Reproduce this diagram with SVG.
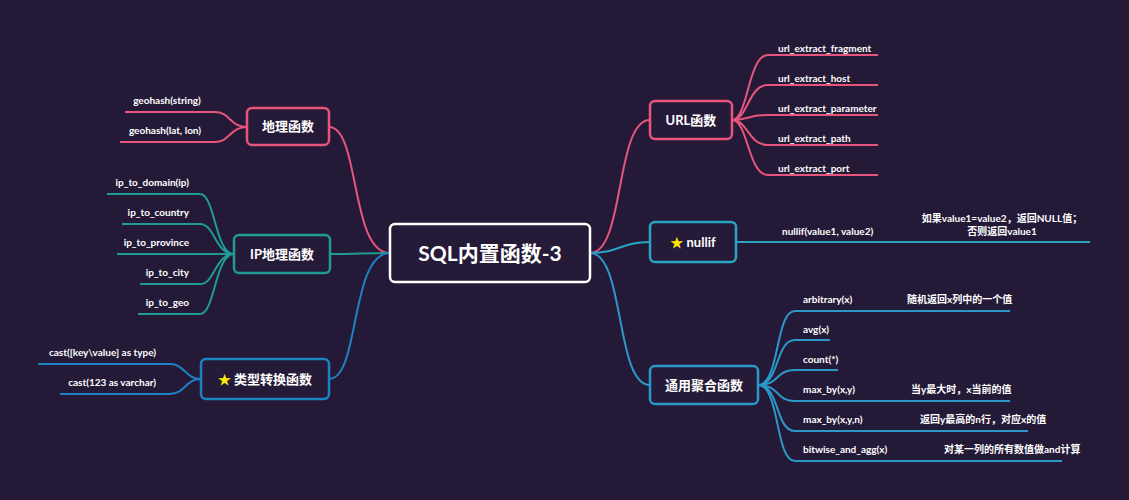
<svg xmlns="http://www.w3.org/2000/svg" width="1129" height="500" viewBox="0 0 1129 500">
<style>
text{font-family:"Lato","Noto Sans CJK SC",sans-serif;fill:#fff;font-weight:bold}
.l{font-size:10px}
.n{font-size:13px;text-anchor:middle}
.c{fill:none;stroke-width:2}
.pk{stroke:#e8557c}.tl{stroke:#1f9a94}.bl{stroke:#1d82c4}.cy{stroke:#27a5c2}.lb{stroke:#2a98c9}
.box{fill:#251b38;stroke-width:2.5}
</style>
<rect width="1129" height="500" fill="#241a37"/>
<g id="connectors">
<path class="c pk" d="M390 253 C350 253 360 127 329 127"/>
<path class="c tl" d="M390 253 C360 253 360 254 330 254"/>
<path class="c bl" d="M390 253 C350 253 360 379 329 379"/>
<path class="c pk" d="M590 253 C625 253 615 120 650 120"/>
<path class="c cy" d="M590 253 C620 253 620 242 650 242"/>
<path class="c lb" d="M590 253 C625 253 615 385 650 385"/>
<path class="c pk" d="M125 112 H215 C230 112 230 127 247 127 M120 142 H215 C230 142 230 127 247 127"/>
<path class="c tl" d="M107 194 H200 C215 194 215 254 234 254 M122 224 H200 C215 224 215 254 234 254 M117 254 H234 M140 284 H200 C215 284 215 254 234 254 M138 314 H200 C215 314 215 254 234 254"/>
<path class="c bl" d="M38 364 H170 C185 364 185 379 201 379 M60 394 H170 C185 394 185 379 201 379"/>
<path class="c pk" d="M732 120 C748 120 748 55 768 55 H878 M732 120 C748 120 748 85 768 85 H878 M732 120 C748 120 748 115 768 115 H878 M732 120 C748 120 748 145 768 145 H878 M732 120 C748 120 748 175 768 175 H878"/>
<path class="c cy" d="M736 242 H1090"/>
<path class="c lb" d="M758 385 C780 385 775 311 795 311 H1010 M758 385 C780 385 775 340 795 340 H830 M758 385 C780 385 775 370 795 370 H838 M758 385 C780 385 775 401 795 401 H1010 M758 385 C780 385 775 431 795 431 H1028 M758 385 C780 385 775 461 795 461 H1062"/>
</g>
<g id="center"><rect class="box" x="390" y="224" width="200" height="58" rx="5" stroke="#fff"/><text x="490" y="261" font-size="21" text-anchor="middle">SQL内置函数-3</text></g>
<g id="dili"><rect class="box" x="247" y="108" width="82" height="37" rx="5" stroke="#e8557c"/><text class="n" x="288" y="131">地理函数</text></g>
<g id="ipdili"><rect class="box" x="234" y="235" width="96" height="38" rx="5" stroke="#1f9a94"/><text class="n" x="282" y="259">IP地理函数</text></g>
<g id="leixing"><rect class="box" x="201" y="359" width="128" height="40" rx="5" stroke="#1d82c4"/><text class="n" x="265" y="384"><tspan fill="#ffe600">★</tspan> 类型转换函数</text></g>
<g id="url"><rect class="box" x="650" y="101" width="82" height="38" rx="5" stroke="#e8557c"/><text class="n" x="691" y="125">URL函数</text></g>
<g id="nullif"><rect class="box" x="650" y="222" width="86" height="40" rx="5" stroke="#27a5c2"/><text class="n" x="693" y="247"><tspan fill="#ffe600">★</tspan> nullif</text></g>
<g id="tongyong"><rect class="box" x="650" y="366" width="108" height="38" rx="5" stroke="#2a98c9"/><text class="n" x="704" y="390">通用聚合函数</text></g>
<g id="leaves">
<text class="l" x="167" y="104" text-anchor="middle">geohash(string)</text>
<text class="l" x="165" y="134" text-anchor="middle">geohash(lat, lon)</text>
<text class="l" x="189" y="186" text-anchor="end">ip_to_domain(ip)</text>
<text class="l" x="189" y="216" text-anchor="end">ip_to_country</text>
<text class="l" x="189" y="246" text-anchor="end">ip_to_province</text>
<text class="l" x="189" y="276" text-anchor="end">ip_to_city</text>
<text class="l" x="189" y="306" text-anchor="end">ip_to_geo</text>
<text class="l" x="156" y="356" text-anchor="end">cast([key\value] as  type)</text>
<text class="l" x="156" y="386" text-anchor="end">cast(123 as varchar)</text>
<text class="l" x="778" y="52">url_extract_fragment</text>
<text class="l" x="778" y="82">url_extract_host</text>
<text class="l" x="778" y="112">url_extract_parameter</text>
<text class="l" x="778" y="142">url_extract_path</text>
<text class="l" x="778" y="172">url_extract_port</text>
<text class="l" x="782" y="235">nullif(value1, value2)</text>
<text class="l" x="1002" y="222" text-anchor="middle">如果value1=value2，返回NULL值；</text>
<text class="l" x="1002" y="235" text-anchor="middle">否则返回value1</text>
<text class="l" x="803" y="303">arbitrary(x)</text>
<text class="l" x="907" y="303">随机返回x列中的一个值</text>
<text class="l" x="803" y="333">avg(x)</text>
<text class="l" x="803" y="363">count(*)</text>
<text class="l" x="803" y="393">max_by(x,y)</text>
<text class="l" x="911" y="393">当y最大时，x当前的值</text>
<text class="l" x="803" y="423">max_by(x,y,n)</text>
<text class="l" x="920" y="423">返回y最高的n行，对应x的值</text>
<text class="l" x="803" y="453">bitwise_and_agg(x)</text>
<text class="l" x="944" y="453">对某一列的所有数值做and计算</text>
</g>
</svg>
